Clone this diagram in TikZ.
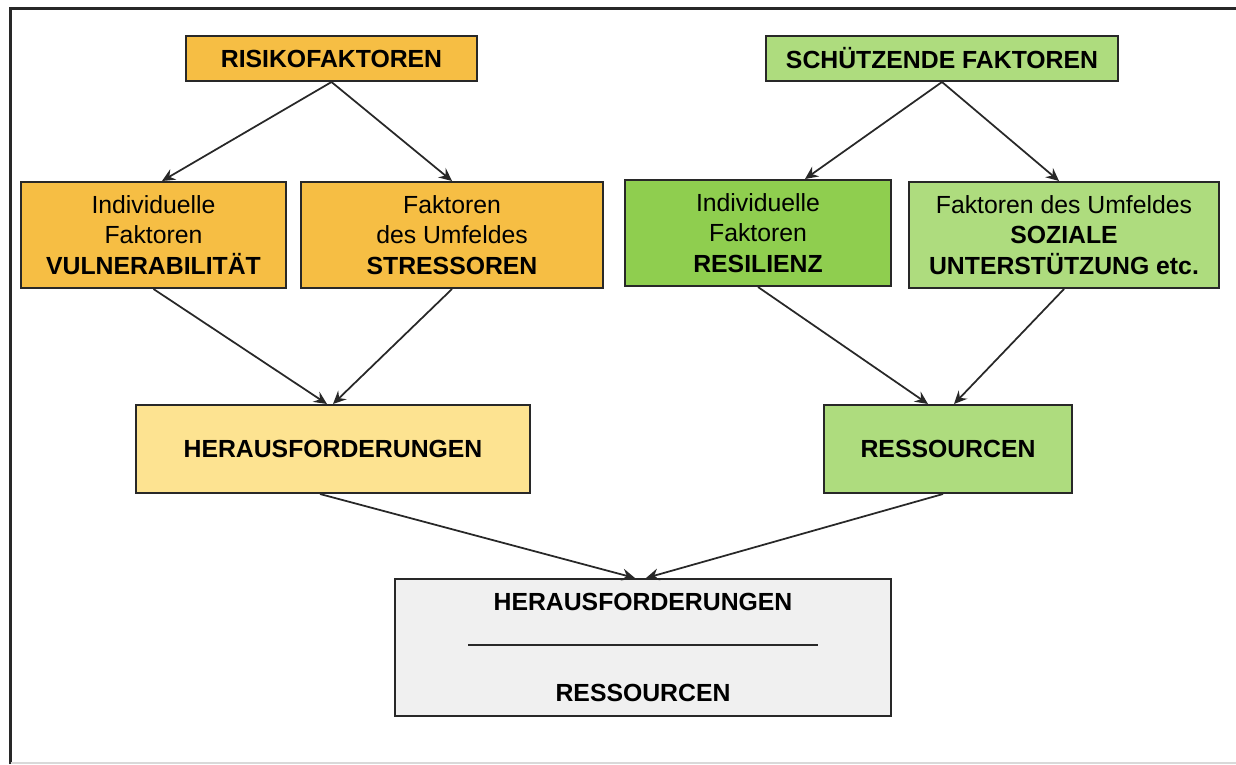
\documentclass[tikz,border=0pt]{standalone}
\usepackage{fontspec}
\setmainfont{Liberation Sans}
\usetikzlibrary{arrows.meta,positioning}
\definecolor{risk}{RGB}{246,190,68}
\definecolor{challenge}{RGB}{253,227,145}
\definecolor{shield}{RGB}{174,220,126}
\definecolor{resil}{RGB}{143,206,79}
\definecolor{balance}{RGB}{240,240,240}
\definecolor{ink}{RGB}{40,40,40}
\tikzset{
  >={Stealth[length=2.6mm,width=2.4mm,inset=0.9mm]},
  box/.style={draw=ink,fill=#1,line width=0.4mm,align=center,inner sep=0pt,
    font=\fontsize{14.1}{17.3}\selectfont},
  box/.default=risk,
  flow/.style={->,line width=0.35mm,draw=ink},
  frame/.style={line width=0.6mm,draw=ink},
}
\begin{document}
\begin{tikzpicture}[x=0.2mm,y=-0.2mm]
    \useasboundingbox (0,0) rectangle (1236,764);
    % outer frame
    \draw[frame] (10.5,764) -- (10.5,8) -- (1236,8);
    \draw[black!15,line width=0.3mm] (10.5,763) -- (1236,763);
    % top level
    \node[box=risk,minimum width=58.2mm,minimum height=9mm] (riskf) at (331.5,58.5) {\bfseries RISIKOFAKTOREN};
    \node[box=shield,minimum width=70.4mm,minimum height=9mm] (protf) at (942,58.5) {\bfseries SCHÜTZENDE FAKTOREN};
    % factors
    \node[box=risk,minimum width=53mm,minimum height=21.2mm] (vuln) at (153.5,235) {Individuelle\\Faktoren\\\bfseries VULNERABILITÄT};
    \node[box=risk,minimum width=60.4mm,minimum height=21.2mm] (stress) at (452,235) {Faktoren\\des Umfeldes\\\bfseries STRESSOREN};
    \node[box=resil,minimum width=53.2mm,minimum height=21.2mm] (resil) at (758,233) {Individuelle\\Faktoren\\\bfseries RESILIENZ};
    \node[box=shield,minimum width=62mm,minimum height=21.2mm] (social) at (1064,235) {Faktoren des Umfeldes\\\bfseries SOZIALE\\\bfseries UNTERSTÜTZUNG etc.};
    % sums
    \node[box=challenge,minimum width=78.8mm,minimum height=17.6mm] (heraus) at (333,449) {\bfseries HERAUSFORDERUNGEN};
    \node[box=shield,minimum width=49.6mm,minimum height=17.6mm] (ress) at (948,449) {\bfseries RESSOURCEN};
    % ratio
    \node[box=balance,minimum width=99.2mm,minimum height=27.4mm] (ratio) at (643,647.5) {};
    \node[font=\fontsize{14.1}{17.3}\selectfont\bfseries] (ratiotop) at (643,602) {HERAUSFORDERUNGEN};
    \node[font=\fontsize{14.1}{17.3}\selectfont\bfseries] (ratiobot) at (643,693) {RESSOURCEN};
    \coordinate (barl) at (468,645);
    \coordinate (barr) at (818,645);
    \draw[ink,line width=0.3mm] (barl) -- (barr);
    % connectors
    \draw[flow] (riskf.south) -- ([xshift=1.7mm]vuln.north);
    \draw[flow] (riskf.south) -- (stress.north);
    \draw[flow] (protf.south) -- ([xshift=9.4mm]resil.north);
    \draw[flow] (protf.south) -- ([xshift=-1mm]social.north);
    \draw[flow] (vuln.south) -- ([xshift=-1.2mm]heraus.north);
    \draw[flow] (stress.south) -- (heraus.north);
    \draw[flow] (resil.south) -- ([xshift=-4mm]ress.north);
    \draw[flow] (social.south) -- ([xshift=1.2mm]ress.north);
    \draw[flow] ([xshift=-2.6mm]heraus.south) -- ([xshift=-1.6mm]ratio.north);
    \draw[flow] ([xshift=-1mm]ress.south) -- ([xshift=0.6mm]ratio.north);
\end{tikzpicture}
\end{document}
